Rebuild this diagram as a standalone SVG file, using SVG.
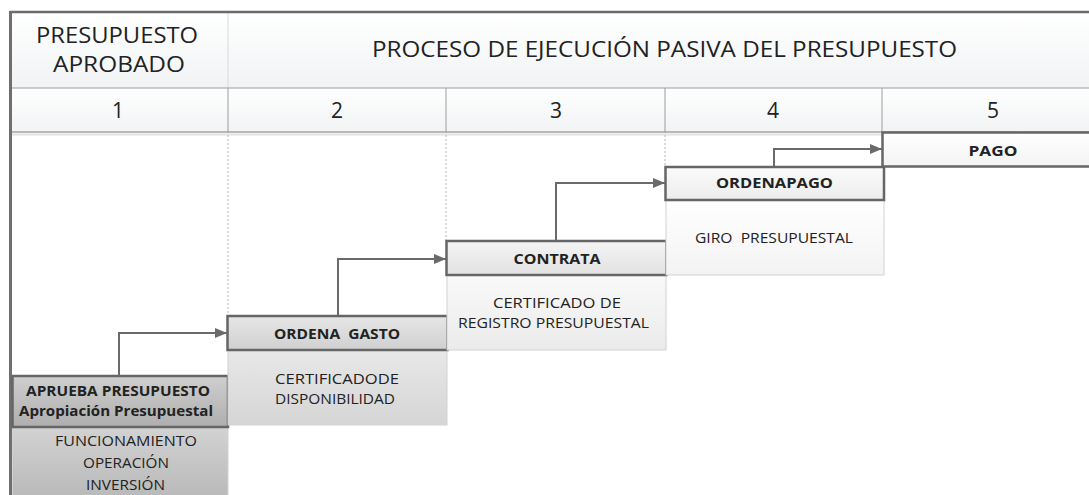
<svg xmlns="http://www.w3.org/2000/svg" width="1089" height="495" viewBox="0 0 1089 495">
<defs>
<linearGradient id="gHead" x1="0" y1="0" x2="0" y2="1"><stop offset="0" stop-color="#ffffff"/><stop offset="1" stop-color="#f1f3f4"/></linearGradient>
<linearGradient id="g1h" x1="0" y1="0" x2="0" y2="1"><stop offset="0" stop-color="#cfcfcf"/><stop offset="1" stop-color="#aeaeae"/></linearGradient>
<linearGradient id="g1b" x1="0" y1="0" x2="0" y2="1"><stop offset="0" stop-color="#d2d2d2"/><stop offset="1" stop-color="#b9b9b9"/></linearGradient>
<linearGradient id="g2h" x1="0" y1="0" x2="0" y2="1"><stop offset="0" stop-color="#e6e6e6"/><stop offset="1" stop-color="#d0d0d0"/></linearGradient>
<linearGradient id="g2b" x1="0" y1="0" x2="0" y2="1"><stop offset="0" stop-color="#e8e8e8"/><stop offset="1" stop-color="#d5d5d5"/></linearGradient>
<linearGradient id="g3h" x1="0" y1="0" x2="0" y2="1"><stop offset="0" stop-color="#f4f4f4"/><stop offset="1" stop-color="#e2e2e2"/></linearGradient>
<linearGradient id="g3b" x1="0" y1="0" x2="0" y2="1"><stop offset="0" stop-color="#f9f9f9"/><stop offset="1" stop-color="#ebebeb"/></linearGradient>
<linearGradient id="g4h" x1="0" y1="0" x2="0" y2="1"><stop offset="0" stop-color="#fbfbfb"/><stop offset="1" stop-color="#ececec"/></linearGradient>
<linearGradient id="g4b" x1="0" y1="0" x2="0" y2="1"><stop offset="0" stop-color="#ffffff"/><stop offset="1" stop-color="#f3f3f3"/></linearGradient>
<linearGradient id="g5h" x1="0" y1="0" x2="0" y2="1"><stop offset="0" stop-color="#ffffff"/><stop offset="1" stop-color="#f3f3f3"/></linearGradient>
<marker id="arr" viewBox="0 0 12 10" refX="12" refY="5" markerWidth="12" markerHeight="10" markerUnits="userSpaceOnUse" orient="auto">
<path d="M0,0 L12,5 L0,10 Z" fill="#6a6a6a"/>
</marker>
</defs>
<style>
text{font-family:"Open Sans","Liberation Sans",sans-serif;fill:#222222;text-anchor:middle}
.hd{font-size:22px}
.num{font-size:21px}
.b{font-size:15px;font-weight:bold}
.b14{font-size:14px;font-weight:bold}
.t{font-size:14px}
.hbox{stroke:#666666;stroke-width:2.5}
.bbox{stroke:#d2d2d2;stroke-width:1}
.grid{stroke:#9c9c9c;stroke-width:1;fill:none}
.dot{stroke:#b4b4b4;stroke-width:1;stroke-dasharray:2,2;fill:none}
.conn{stroke:#6a6a6a;stroke-width:2;fill:none}
</style>

<g id="frame">
<rect x="11" y="12" width="1078" height="76" fill="url(#gHead)"/>
<rect x="11" y="88" width="1078" height="44" fill="url(#gHead)"/>
<line x1="228" y1="12" x2="228" y2="88" stroke="#d8dadb" stroke-width="1"/>
<line class="grid" x1="12" y1="88" x2="1089" y2="88"/>
<line class="grid" x1="228" y1="88" x2="228" y2="133"/>
<line class="grid" x1="446" y1="88" x2="446" y2="133" stroke="#b0b0b0"/>
<line class="grid" x1="665" y1="88" x2="665" y2="133" stroke="#b0b0b0"/>
<line class="grid" x1="882" y1="88" x2="882" y2="133" stroke="#b0b0b0"/>
<line x1="12" y1="132" x2="1089" y2="132" stroke="#a3a3a3" stroke-width="1.5"/>
<line x1="12" y1="134.5" x2="1089" y2="134.5" stroke="#e2e2e2" stroke-width="2"/>
<line class="dot" x1="228" y1="135" x2="228" y2="316"/>
<line class="dot" x1="446" y1="135" x2="446" y2="241"/>
<line class="dot" x1="665" y1="135" x2="665" y2="167"/>
<line x1="10" y1="12" x2="1089" y2="12" stroke="#6b6b6b" stroke-width="2.5"/>
<line x1="10.5" y1="11" x2="10.5" y2="495" stroke="#6f6f6f" stroke-width="3"/>
<text class="hd" x="117" y="43" textLength="162" lengthAdjust="spacingAndGlyphs">PRESUPUESTO</text>
<text class="hd" x="119" y="72" textLength="132" lengthAdjust="spacingAndGlyphs">APROBADO</text>
<text class="hd" x="664.5" y="57" textLength="585" lengthAdjust="spacingAndGlyphs">PROCESO DE EJECUCIÓN PASIVA DEL PRESUPUESTO</text>
<text class="num" x="118" y="118">1</text>
<text class="num" x="337" y="118">2</text>
<text class="num" x="556" y="118">3</text>
<text class="num" x="773" y="118">4</text>
<text class="num" x="993" y="118">5</text>
</g>

<g id="node-aprueba">
<rect class="bbox" x="12.5" y="428" width="215.5" height="70" fill="url(#g1b)"/>
<rect class="hbox" x="12.5" y="376" width="215.5" height="51" fill="url(#g1h)"/>
<text class="b14" x="118" y="396" textLength="184" lengthAdjust="spacingAndGlyphs">APRUEBA PRESUPUESTO</text>
<text class="b14" x="116" y="416" textLength="194" lengthAdjust="spacingAndGlyphs">Apropiación Presupuestal</text>
<text class="t" x="126" y="446" textLength="142" lengthAdjust="spacingAndGlyphs">FUNCIONAMIENTO</text>
<text class="t" x="126" y="468" textLength="86" lengthAdjust="spacingAndGlyphs">OPERACIÓN</text>
<text class="t" x="125.5" y="490" textLength="79" lengthAdjust="spacingAndGlyphs">INVERSIÓN</text>
</g>

<g id="node-ordena-gasto">
<rect class="bbox" x="228" y="350" width="219" height="75" fill="url(#g2b)"/>
<rect class="hbox" x="227.5" y="316" width="220" height="34" fill="url(#g2h)"/>
<text class="b" x="337" y="339" textLength="126" lengthAdjust="spacingAndGlyphs" xml:space="preserve">ORDENA  GASTO</text>
<text class="t" x="337" y="384" textLength="124" lengthAdjust="spacingAndGlyphs">CERTIFICADODE</text>
<text class="t" x="335" y="404" textLength="120" lengthAdjust="spacingAndGlyphs">DISPONIBILIDAD</text>
</g>

<g id="node-contrata">
<rect class="bbox" x="447" y="275" width="219" height="75" fill="url(#g3b)"/>
<rect class="hbox" x="446.5" y="241" width="220" height="34" fill="url(#g3h)"/>
<text class="b" x="557" y="264" textLength="87" lengthAdjust="spacingAndGlyphs">CONTRATA</text>
<text class="t" x="557" y="308" textLength="128" lengthAdjust="spacingAndGlyphs">CERTIFICADO DE</text>
<text class="t" x="553.5" y="328" textLength="191" lengthAdjust="spacingAndGlyphs">REGISTRO PRESUPUESTAL</text>
</g>

<g id="node-ordena-pago">
<rect class="bbox" x="666" y="200" width="218" height="75" fill="url(#g4b)"/>
<rect class="hbox" x="665.5" y="167" width="218.5" height="33" fill="url(#g4h)"/>
<text class="b" x="774.5" y="188" textLength="117" lengthAdjust="spacingAndGlyphs">ORDENAPAGO</text>
<text class="t" x="774" y="243" textLength="158" lengthAdjust="spacingAndGlyphs" xml:space="preserve">GIRO  PRESUPUESTAL</text>
</g>

<g id="node-pago">
<rect class="hbox" x="882.5" y="132.5" width="210" height="34" fill="url(#g5h)"/>
<text class="b" x="993" y="156" textLength="49" lengthAdjust="spacingAndGlyphs">PAGO</text>
</g>

<g id="connectors">
<path class="conn" d="M119,376 V333 H227" marker-end="url(#arr)"/>
<path class="conn" d="M338,316 V259 H446" marker-end="url(#arr)"/>
<path class="conn" d="M556,241 V183 H665" marker-end="url(#arr)"/>
<path class="conn" d="M774,167 V149 H882" marker-end="url(#arr)"/>
</g>
</svg>
